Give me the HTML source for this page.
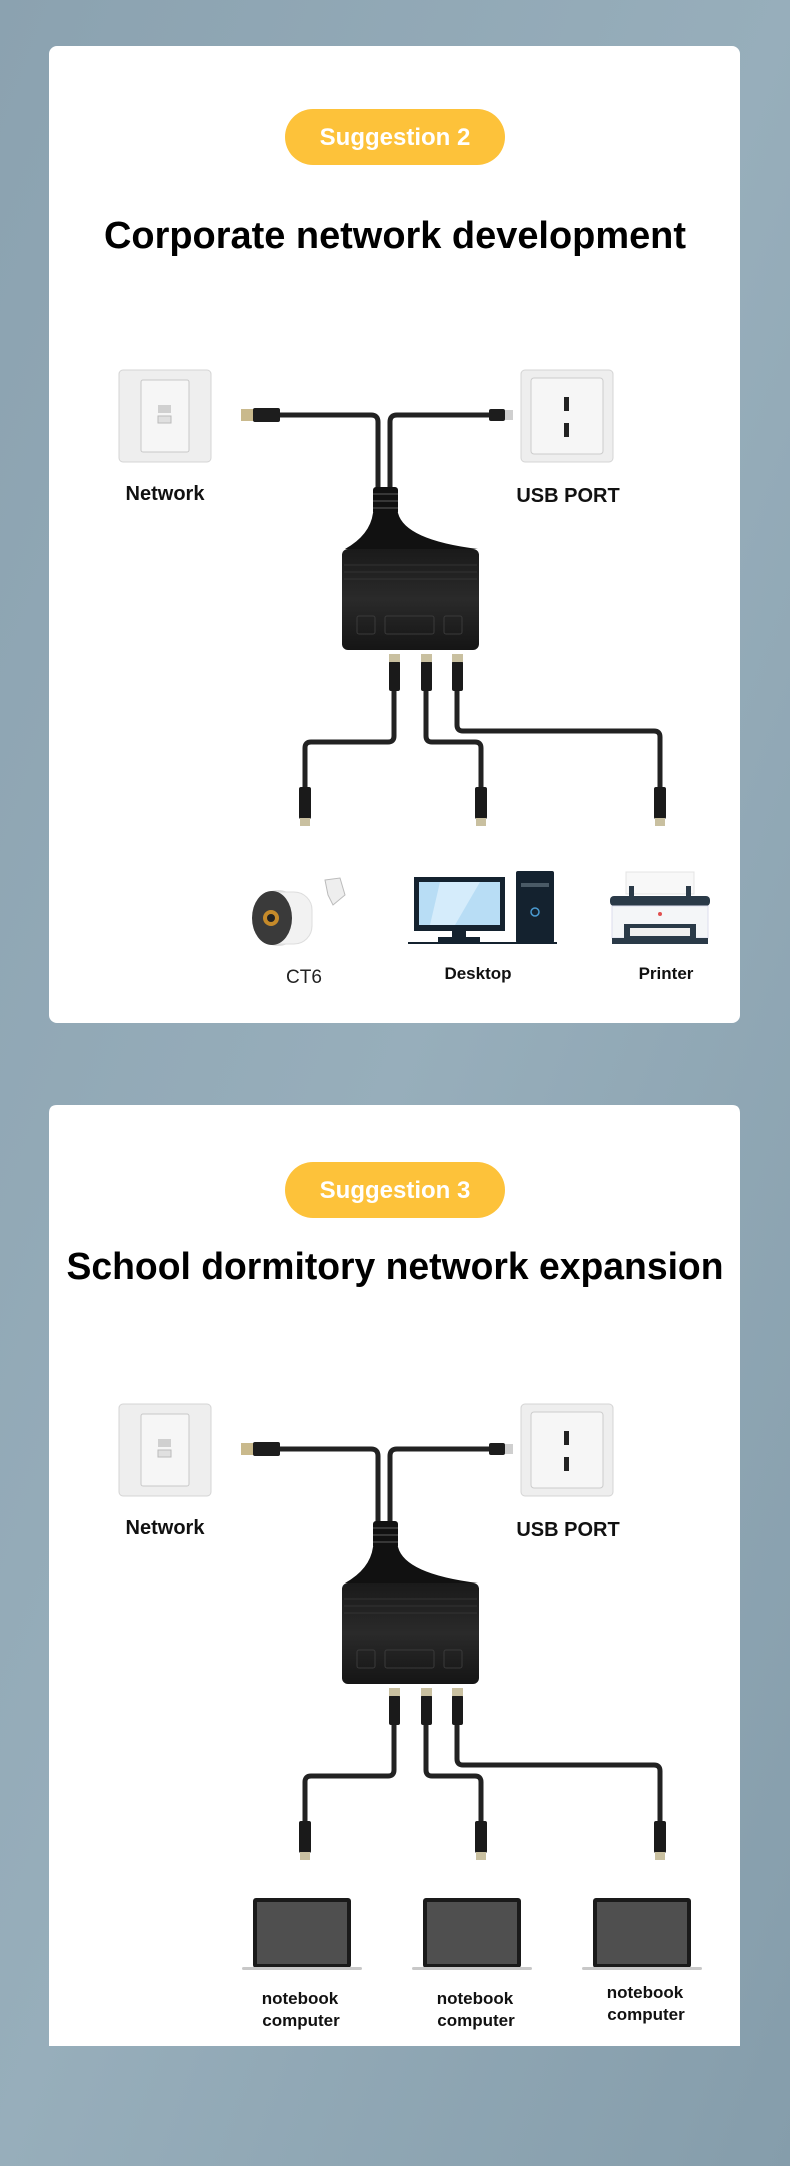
<!DOCTYPE html>
<html><head><meta charset="utf-8"><style>
html,body{margin:0;padding:0;width:790px;height:2166px;overflow:hidden;}
svg{display:block}
text{font-family:"Liberation Sans","Noto Sans CJK SC",sans-serif;}
</style></head><body>
<svg width="790" height="2166" viewBox="0 0 790 2166" xmlns="http://www.w3.org/2000/svg">
<defs>
<linearGradient id="bg" x1="0" y1="0" x2="1" y2="1">
<stop offset="0" stop-color="#8ba2b0"/><stop offset="0.5" stop-color="#97aebb"/><stop offset="1" stop-color="#859dab"/>
</linearGradient>
<linearGradient id="body" x1="0" y1="0" x2="0" y2="1">
<stop offset="0" stop-color="#1a1a1a"/><stop offset="0.5" stop-color="#2a2a2a"/><stop offset="1" stop-color="#151515"/>
</linearGradient>
<g id="diag">
 <!-- network plate -->
 <rect x="119" y="370" width="92" height="92" rx="4" fill="#eeeeee" stroke="#d4d4d4"/>
 <rect x="141" y="380" width="48" height="72" rx="2" fill="#f6f6f6" stroke="#c8c8c8"/>
 <rect x="158" y="405" width="13" height="8" fill="#d0d0d0"/>
 <rect x="158" y="416" width="13" height="7" fill="#e0e0e0" stroke="#bbb"/>
 <!-- usb plate -->
 <rect x="521" y="370" width="92" height="92" rx="4" fill="#eeeeee" stroke="#d4d4d4"/>
 <rect x="531" y="378" width="72" height="76" rx="3" fill="#f6f6f6" stroke="#cccccc"/>
 <rect x="564" y="397" width="5" height="14" fill="#222"/>
 <rect x="564" y="423" width="5" height="14" fill="#222"/>
 <!-- top cables -->
 <path d="M280 415 H371 Q378 415 378 422 V492" fill="none" stroke="#222" stroke-width="5"/>
 <path d="M490 415 H397 Q390 415 390 422 V492" fill="none" stroke="#222" stroke-width="5"/>
 <rect x="241" y="409" width="13" height="12" fill="#c9b98c"/>
 <rect x="253" y="408" width="27" height="14" rx="2" fill="#1d1d1d"/>
 <rect x="489" y="409" width="16" height="12" rx="2" fill="#1d1d1d"/>
 <rect x="505" y="410" width="8" height="10" fill="#cfcfcf"/>
 <!-- strain relief -->
 <rect x="373" y="487" width="25" height="28" rx="3" fill="#111"/>
 <line x1="373" y1="494" x2="398" y2="494" stroke="#444" stroke-width="1.5"/>
 <line x1="373" y1="501" x2="398" y2="501" stroke="#444" stroke-width="1.5"/>
 <line x1="373" y1="508" x2="398" y2="508" stroke="#444" stroke-width="1.5"/>
 <!-- flare -->
 <path d="M373 513 Q370 535 345 549 H478 Q405 540 398 513 Z" fill="#111"/>
 <!-- body -->
 <rect x="342" y="549" width="137" height="101" rx="6" fill="url(#body)"/>
 <line x1="344" y1="565" x2="477" y2="565" stroke="#333"/>
 <line x1="344" y1="572" x2="477" y2="572" stroke="#333"/>
 <line x1="344" y1="579" x2="477" y2="579" stroke="#333"/>
 <rect x="357" y="616" width="18" height="18" rx="2" fill="none" stroke="#3a3a3a"/>
 <rect x="385" y="616" width="49" height="18" rx="2" fill="none" stroke="#3a3a3a"/>
 <rect x="444" y="616" width="18" height="18" rx="2" fill="none" stroke="#3a3a3a"/>
 <!-- output plugs & cables -->
 <path d="M394 690 V736 Q394 742 388 742 H311 Q305 742 305 748 V790" fill="none" stroke="#222" stroke-width="5"/>
 <path d="M426 690 V736 Q426 742 432 742 H475 Q481 742 481 748 V790" fill="none" stroke="#222" stroke-width="5"/>
 <path d="M457 690 V725 Q457 731 463 731 H654 Q660 731 660 737 V790" fill="none" stroke="#222" stroke-width="5"/>
 <g fill="#1a1a1a">
  <rect x="389" y="661" width="11" height="30" rx="2"/><rect x="421" y="661" width="11" height="30" rx="2"/><rect x="452" y="661" width="11" height="30" rx="2"/>
  <rect x="299" y="787" width="12" height="32" rx="2"/><rect x="475" y="787" width="12" height="32" rx="2"/><rect x="654" y="787" width="12" height="32" rx="2"/>
 </g>
 <g fill="#c9c0a0">
  <rect x="389" y="654" width="11" height="8"/><rect x="421" y="654" width="11" height="8"/><rect x="452" y="654" width="11" height="8"/>
  <rect x="300" y="818" width="10" height="8"/><rect x="476" y="818" width="10" height="8"/><rect x="655" y="818" width="10" height="8"/>
 </g>
 <text x="165" y="500" font-size="20" font-weight="bold" text-anchor="middle" fill="#111">Network</text>
 <text x="568" y="502" font-size="20" font-weight="bold" text-anchor="middle" fill="#111">USB PORT</text>
</g>
</defs>
<rect width="790" height="2166" fill="url(#bg)"/>

<!-- card 1 -->
<rect x="49" y="46" width="691" height="977" rx="8" fill="#fff"/>
<rect x="285" y="109" width="220" height="56" rx="28" fill="#fdc23a"/>
<text x="395" y="145" font-size="24" font-weight="bold" text-anchor="middle" fill="#fff">Suggestion 2</text>
<text x="395" y="248" font-size="38" font-weight="bold" text-anchor="middle" fill="#000" textLength="582" lengthAdjust="spacingAndGlyphs">Corporate network development</text>
<use href="#diag"/>
<!-- camera -->
<ellipse cx="278" cy="918" rx="25" ry="28" fill="#ddd"/>
<rect x="262" y="892" width="50" height="52" rx="18" fill="#f2f2f2" stroke="#ddd"/>
<ellipse cx="272" cy="918" rx="20" ry="27" fill="#3a3a3a"/>
<circle cx="271" cy="918" r="8" fill="#c58a2a"/>
<circle cx="271" cy="918" r="4" fill="#222"/>
<path d="M325 880 L340 878 L345 895 L333 905 L328 895 Z" fill="#eee" stroke="#bbb"/>
<!-- desktop -->
<rect x="414" y="877" width="91" height="54" fill="#14222f"/>
<rect x="419" y="882" width="81" height="43" fill="#b8ddf5"/>
<path d="M440 882 H480 L455 925 H430 Z" fill="#d5ecfb"/>
<rect x="452" y="931" width="14" height="7" fill="#14222f"/>
<rect x="438" y="937" width="42" height="5" fill="#14222f"/>
<rect x="516" y="871" width="38" height="72" rx="2" fill="#14222f"/>
<rect x="521" y="883" width="28" height="4" fill="#4a5a66"/>
<circle cx="535" cy="912" r="4" fill="none" stroke="#4a9ad0" stroke-width="1.5"/>
<line x1="408" y1="943" x2="557" y2="943" stroke="#14222f" stroke-width="2"/>
<!-- printer -->
<rect x="626" y="872" width="68" height="22" fill="#f8f8f8" stroke="#e4e4e4"/>
<rect x="629" y="886" width="5" height="12" fill="#2a3a48"/><rect x="686" y="886" width="5" height="12" fill="#2a3a48"/>
<rect x="610" y="896" width="100" height="10" rx="4" fill="#2a3a48"/>
<rect x="612" y="906" width="96" height="32" fill="#f4f6f8" stroke="#dde"/>
<circle cx="660" cy="914" r="2" fill="#e05050"/>
<rect x="624" y="924" width="72" height="14" fill="#2a3a48"/>
<rect x="630" y="928" width="60" height="8" fill="#f0f0f0"/>
<rect x="612" y="938" width="96" height="6" fill="#2a3a48"/>
<text x="304" y="983" font-size="19" text-anchor="middle" fill="#222">CT6</text>
<text x="478" y="979" font-size="17" font-weight="bold" text-anchor="middle" fill="#111">Desktop</text>
<text x="666" y="979" font-size="17" font-weight="bold" text-anchor="middle" fill="#111">Printer</text>

<!-- card 2 -->
<path d="M57 1105 H732 Q740 1105 740 1113 V2046 H49 V1113 Q49 1105 57 1105 Z" fill="#fff"/>
<rect x="285" y="1162" width="220" height="56" rx="28" fill="#fdc23a"/>
<text x="395" y="1198" font-size="24" font-weight="bold" text-anchor="middle" fill="#fff">Suggestion 3</text>
<text x="395" y="1279" font-size="38" font-weight="bold" text-anchor="middle" fill="#000" textLength="657" lengthAdjust="spacingAndGlyphs">School dormitory network expansion</text>
<use href="#diag" transform="translate(0,1034)"/>
<!-- laptops -->
<g>
 <rect x="253" y="1898" width="98" height="70" rx="3" fill="#1a1a1a"/><rect x="257" y="1902" width="90" height="62" fill="#4f4f4f"/>
 <rect x="242" y="1967" width="120" height="3" rx="1.5" fill="#c8c8c8"/>
 <rect x="423" y="1898" width="98" height="70" rx="3" fill="#1a1a1a"/><rect x="427" y="1902" width="90" height="62" fill="#4f4f4f"/>
 <rect x="412" y="1967" width="120" height="3" rx="1.5" fill="#c8c8c8"/>
 <rect x="593" y="1898" width="98" height="70" rx="3" fill="#1a1a1a"/><rect x="597" y="1902" width="90" height="62" fill="#4f4f4f"/>
 <rect x="582" y="1967" width="120" height="3" rx="1.5" fill="#c8c8c8"/>
</g>
<g font-size="17" font-weight="bold" text-anchor="middle" fill="#111">
 <text x="300" y="2004">notebook</text><text x="301" y="2026">computer</text>
 <text x="475" y="2004">notebook</text><text x="476" y="2026">computer</text>
 <text x="645" y="1998">notebook</text><text x="646" y="2020">computer</text>
</g>
</svg>
</body></html>
